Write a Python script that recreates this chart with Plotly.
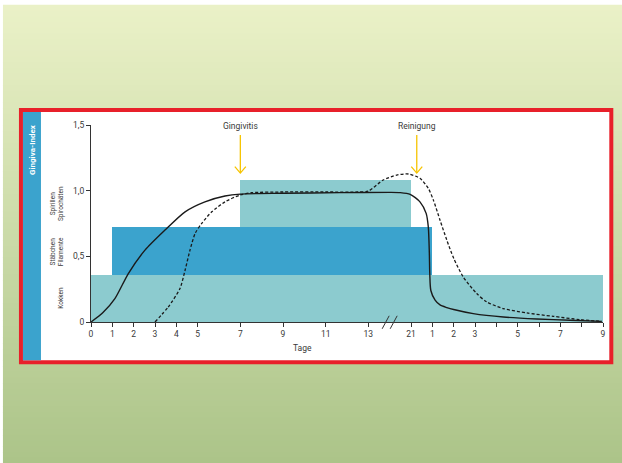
import plotly.graph_objects as go

# ---------------- data ----------------
band_names = ["Kokken", "Stäbchen Filamente", "Spirillen Spirochäten"]
band_start = [0, 1, 7]
band_end = [24, 16, 15]
band_low = [0, 0.36, 0.725]
band_high = [0.36, 0.725, 1.08]

solid_x = [0, 0.55, 1.12, 1.75, 2.53, 3.47, 4.41, 5.34, 6.28, 7.0, 9.0, 11.67, 14.0, 14.5,
           14.96, 15.42, 15.71, 15.81, 15.86, 15.88, 15.93, 16.13, 16.36, 16.68, 17.0,
           17.92, 19.33, 20.9, 22.46, 23.94]
solid_y = [0, 0.07, 0.178, 0.369, 0.547, 0.70, 0.839, 0.915, 0.959, 0.974, 0.98, 0.985, 0.987, 0.985,
           0.972, 0.915, 0.827, 0.725, 0.524, 0.37, 0.24, 0.166, 0.13, 0.11, 0.095,
           0.064, 0.038, 0.023, 0.013, 0.005]

dash_x = [3.0, 3.62, 4.17, 4.41, 4.64, 4.88, 5.19, 5.66, 6.28, 6.98, 7.53, 9.0, 11.0, 12.5,
          13.0, 13.7, 14.33, 14.88, 15.42, 15.81, 16.05, 16.36, 16.68, 17.0, 17.45, 18.08,
          18.55, 19.33, 20.43, 21.67, 22.92, 23.94]
dash_y = [0, 0.114, 0.255, 0.394, 0.547, 0.674, 0.751, 0.839, 0.915, 0.966, 0.984, 0.99, 0.99, 0.99,
          0.997, 1.081, 1.119, 1.127, 1.094, 1.018, 0.928, 0.776, 0.623, 0.485, 0.343, 0.217,
          0.153, 0.102, 0.069, 0.043, 0.018, 0.005]

x_tickvals = [0, 1, 2, 3, 4, 5, 7, 9, 11, 13, 15, 16, 17, 18, 19, 20, 21, 22, 23, 24]
x_ticktext = ["0", "1", "2", "3", "4", "5", "7", "9", "11", "13", "21", "1", "2", "3", "", "5", "", "7", "", "9"]
y_tickvals = [0, 0.5, 1.0, 1.5]
y_ticktext = ["0", "0,5", "1,0", "1,5"]

events = ["Gingivitis", "Reinigung"]
event_x = [7.0, 15.27]

# ---------------- geometry helpers ----------------
W, H = 622, 463
PL, PR = 91.0, 602.7
PT, PB = 125.0, 321.7


def px(x):
    return (x - PL) / (PR - PL)


def py(y):
    return (PB - y) / (PB - PT)


FONT = "Liberation Sans Narrow, Roboto, sans-serif"
TEXT = "#3a3a3a"
LIGHT = "#8ccbcf"
BLUE = "#3ba3cd"
YELLOW = "#f6c400"

fig = go.Figure()

band_colors = [LIGHT, BLUE, LIGHT]
for i in range(len(band_names)):
    fig.add_trace(go.Bar(
        x=[(band_start[i] + band_end[i]) / 2], width=[band_end[i] - band_start[i]],
        y=[band_high[i] - band_low[i]], base=[band_low[i]],
        marker=dict(color=band_colors[i], line=dict(width=0)),
        name=band_names[i], showlegend=False, hoverinfo="skip"))

fig.add_trace(go.Scatter(x=solid_x, y=solid_y, mode="lines",
                         line=dict(color="#1a1a1a", width=1.4, shape="spline", smoothing=0.7),
                         showlegend=False, cliponaxis=False))
fig.add_trace(go.Scatter(x=dash_x, y=dash_y, mode="lines",
                         line=dict(color="#1a1a1a", width=1.3, dash="3px,2px", shape="spline", smoothing=0.7),
                         showlegend=False, cliponaxis=False))

shapes = []
# gradient background
N = 80
top_c = (234, 241, 199)
bot_c = (172, 196, 137)
y_start = 5.0
for i in range(N):
    t = i / (N - 1)
    c = tuple(int(round(top_c[k] + (bot_c[k] - top_c[k]) * t)) for k in range(3))
    y0 = y_start + (H - y_start) * i / N
    y1 = y_start + (H - y_start) * (i + 1) / N + 0.8
    shapes.append(dict(type="rect", xref="paper", yref="paper", layer="below",
                       x0=px(3), x1=px(W + 2), y0=py(y0), y1=py(min(y1, H + 2)),
                       fillcolor="rgb(%d,%d,%d)" % c, line=dict(width=0)))
# red frame with white inside
shapes.append(dict(type="rect", xref="paper", yref="paper", layer="below",
                   x0=px(21), x1=px(611), y0=py(110), y1=py(362),
                   fillcolor="white", line=dict(color="#e8202a", width=4)))
# blue stripe
shapes.append(dict(type="rect", xref="paper", yref="paper", layer="below",
                   x0=px(23), x1=px(41), y0=py(112), y1=py(360),
                   fillcolor=BLUE, line=dict(width=0)))
# axis break slashes
for cx in (385.5, 393.5):
    shapes.append(dict(type="line", xref="paper", yref="paper", layer="above",
                       x0=px(cx - 3.5), x1=px(cx + 3.5), y0=py(328.5), y1=py(315.5),
                       line=dict(color="#333333", width=1)))

annotations = []
# event arrows
for name, ex in zip(events, event_x):
    xp = PL + ex * (PR - PL) / 24.0
    shapes.append(dict(type="line", xref="paper", yref="paper", layer="above",
                       x0=px(xp), x1=px(xp), y0=py(135), y1=py(173),
                       line=dict(color=YELLOW, width=1.3)))
    shapes.append(dict(type="path", xref="paper", yref="paper", layer="above",
                       path="M %f %f L %f %f L %f %f" % (px(xp - 5.5), py(166.5), px(xp), py(173),
                                                          px(xp + 5.5), py(166.5)),
                       line=dict(color=YELLOW, width=1.3)))
    annotations.append(dict(text=name, xref="paper", yref="paper", x=px(xp), y=py(125.5),
                            showarrow=False, xanchor="center", yanchor="middle",
                            font=dict(family=FONT, size=8.5, color=TEXT)))

annotations.append(dict(text="Tage", xref="paper", yref="paper", x=px(302.7), y=py(348),
                        showarrow=False, xanchor="center", yanchor="middle",
                        font=dict(family=FONT, size=8.5, color=TEXT)))
annotations.append(dict(text="<b>Gingiva-Index</b>", xref="paper", yref="paper", x=px(32.5), y=py(149.5),
                        showarrow=False, textangle=-90, xanchor="center", yanchor="middle",
                        font=dict(family=FONT, size=8, color="white")))
for txt, cx, cy in (("Spirillen<br>Spirochäten", 57, 203), ("Stäbchen<br>Filamente", 57, 251),
                    ("Kokken", 61.5, 297)):
    annotations.append(dict(text=txt, xref="paper", yref="paper", x=px(cx), y=py(cy),
                            showarrow=False, textangle=-90, xanchor="center", yanchor="middle",
                            font=dict(family=FONT, size=6.5, color=TEXT)))

fig.update_layout(
    width=W, height=H,
    margin=dict(l=PL, r=W - PR, t=PT, b=H - PB, pad=0),
    paper_bgcolor="white", plot_bgcolor="rgba(0,0,0,0)",
    barmode="overlay", bargap=0,
    shapes=shapes, annotations=annotations,
    xaxis=dict(range=[0, 24], tickmode="array", tickvals=x_tickvals, ticktext=x_ticktext,
               showline=True, linecolor="#333333", linewidth=1, ticks="outside", ticklen=4,
               tickcolor="#333333", tickwidth=1, showgrid=False, zeroline=False,
               tickfont=dict(family=FONT, size=8.5, color=TEXT), fixedrange=True),
    yaxis=dict(range=[0, 1.5], tickmode="array", tickvals=y_tickvals, ticktext=y_ticktext,
               showline=True, linecolor="#333333", linewidth=1, ticks="outside", ticklen=4,
               tickcolor="#333333", tickwidth=1, showgrid=False, zeroline=False,
               tickfont=dict(family=FONT, size=8.5, color=TEXT), fixedrange=True),
)

fig.write_html("out.html", config={"displayModeBar": False},
               post_script="document.body.style.margin='0';document.body.style.overflow='hidden';")
